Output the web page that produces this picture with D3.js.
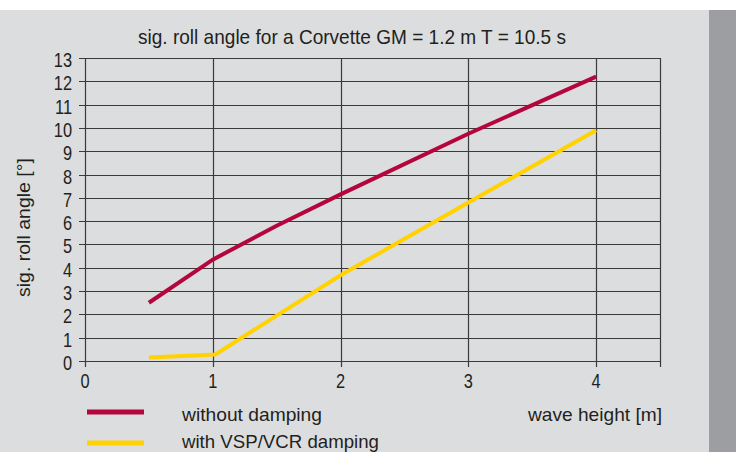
<!DOCTYPE html>
<html>
<head>
<meta charset="utf-8">
<script src="https://cdn.jsdelivr.net/npm/d3@7"></script>
<style>
  body { margin: 0; background: #fff; }
  svg text { font-family: "Liberation Sans", Arial, sans-serif; fill: #231f20; }
</style>
</head>
<body>
<div id="chart"></div>
<script>
// wave height [m]
var waveHeight = [0.5, 1, 1.5, 2, 3, 4];
var withoutDamping = [2.5, 4.35, 5.8, 7.15, 9.75, 12.2];
var vspHeight = [0.5, 1.02, 2, 3, 4];
var withDamping = [0.15, 0.28, 3.68, 6.8, 9.9];
var xTicks = [0, 1, 2, 3, 4];
var yTicks = d3.range(0, 14);

var width = 736, height = 452;

var svg = d3.select("#chart").append("svg")
    .attr("width", width)
    .attr("height", height);

// panel + right strip
svg.append("rect").attr("x", 0).attr("y", 10).attr("width", width).attr("height", height - 10).attr("fill", "#dcdddf");
svg.append("rect").attr("x", 709).attr("y", 10).attr("width", width - 709).attr("height", height - 10).attr("fill", "#9d9ea2");

var x = d3.scaleLinear().domain([0, 4.5]).range([85, 660]);
var y = d3.scaleLinear().domain([0, 13]).range([361, 58]);

// condensed look: squeeze a normal font horizontally
var sx = 0.82;

// grid
svg.selectAll(".hgrid")
    .data(yTicks)
    .enter().append("line")
    .attr("x1", x(0) - 6).attr("x2", x(4.5))
    .attr("y1", function(d) { return Math.round(y(d)) + 0.5; })
    .attr("y2", function(d) { return Math.round(y(d)) + 0.5; })
    .attr("stroke", "#3a3a3a").attr("stroke-width", 1.2);

svg.selectAll(".vgrid")
    .data(xTicks.concat([4.5]))
    .enter().append("line")
    .attr("y1", y(13)).attr("y2", y(0) + 6)
    .attr("x1", function(d) { return Math.round(x(d)) + 0.5; })
    .attr("x2", function(d) { return Math.round(x(d)) + 0.5; })
    .attr("stroke", "#3a3a3a").attr("stroke-width", 1.2);

// tick labels
svg.selectAll(".ylab")
    .data(yTicks)
    .enter().append("text")
    .attr("transform", function(d) { return "translate(72," + (y(d) + 9) + ") scale(" + sx + ",1)"; })
    .attr("text-anchor", "end")
    .style("font-size", "20px")
    .text(function(d) { return d; });

svg.selectAll(".xlab")
    .data(xTicks)
    .enter().append("text")
    .attr("transform", function(d) { return "translate(" + x(d) + ",388) scale(" + sx + ",1)"; })
    .attr("text-anchor", "middle")
    .style("font-size", "20px")
    .text(function(d) { return d; });

// lines
var line = d3.line()
    .x(function(d) { return x(d[0]); })
    .y(function(d) { return y(d[1]); });

svg.append("path")
    .datum(d3.zip(vspHeight, withDamping))
    .attr("d", line)
    .attr("fill", "none")
    .attr("stroke", "#ffd200")
    .attr("stroke-width", 4);

svg.append("path")
    .datum(d3.zip(waveHeight, withoutDamping))
    .attr("d", line)
    .attr("fill", "none")
    .attr("stroke", "#b4063d")
    .attr("stroke-width", 4);

// title
svg.append("text")
    .attr("x", 138).attr("y", 44)
    .attr("textLength", 428)
    .attr("lengthAdjust", "spacingAndGlyphs")
    .style("font-size", "21px")
    .text("sig. roll angle for a Corvette GM = 1.2 m T = 10.5 s");

// y label
svg.append("text")
    .attr("transform", "translate(30,297) rotate(-90)")
    .attr("textLength", 139)
    .attr("lengthAdjust", "spacingAndGlyphs")
    .style("font-size", "19px")
    .text("sig. roll angle [°]");

// x label
svg.append("text")
    .attr("x", 528).attr("y", 421)
    .attr("textLength", 134)
    .attr("lengthAdjust", "spacingAndGlyphs")
    .style("font-size", "19px")
    .text("wave height [m]");

// legend
var legend = [
    { label: "without damping", color: "#b4063d", w: 140 },
    { label: "with VSP/VCR damping", color: "#ffd200", w: 197 }
];
var lg = svg.selectAll(".legend")
    .data(legend)
    .enter().append("g")
    .attr("transform", function(d, i) { return "translate(0," + (412 + i * 31) + ")"; });
lg.append("line")
    .attr("x1", 87).attr("x2", 144)
    .attr("stroke", function(d) { return d.color; })
    .attr("stroke-width", 5);
lg.append("text")
    .attr("x", 182).attr("y", function(d, i) { return 9 - i * 4; })
    .attr("textLength", function(d) { return d.w; })
    .attr("lengthAdjust", "spacingAndGlyphs")
    .style("font-size", "19px")
    .text(function(d) { return d.label; });
</script>
</body>
</html>
